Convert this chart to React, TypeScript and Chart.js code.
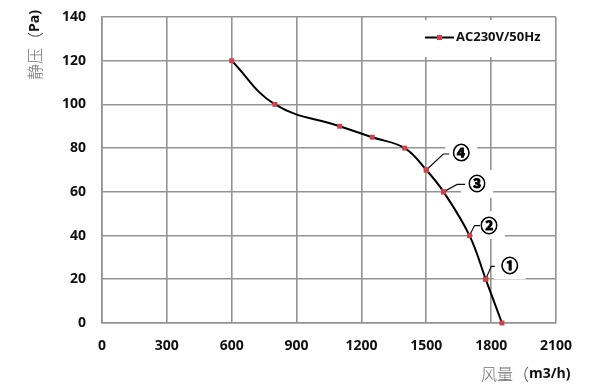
import React, { useEffect, useRef } from "react";
import { Chart, registerables } from "chart.js";

Chart.register(...registerables);

// ---- data ----
const airflow = [600, 800, 1100, 1250, 1400, 1500, 1580, 1700, 1775, 1850];
const pressure = [120, 100, 90, 85, 80, 70, 60, 40, 20, 0];
const seriesLabel = "AC230V/50Hz";
const calloutLabels = ["④", "③", "②", "①"];
const calloutIndices = [5, 6, 7, 8];
const xTitleCn = "风量";
const xTitleUnit = "m3/h)";
const yTitleCn = "静压";
const yTitleUnit = "Pa)";
const xMin = 0, xMax = 2100, xStep = 300;
const yMin = 0, yMax = 140, yStep = 20;

// ---- styles ----
const GRID = "#939393";
const RED = "#cf424c";
const TICK_FONT = "'Open Sans', 'Liberation Sans', sans-serif";
const CJK_FONT = "'Noto Sans CJK SC', sans-serif";
// leader offsets relative to the point: elbow, end of horizontal, label centre
const calloutGeom = [
  { ex: 17, ey: -16, hx: 23, lx: 35, ly: -17 },
  { ex: 13.5, ey: -7.5, hx: 21.5, lx: 33.5, ly: -8 },
  { ex: 5, ey: -10, hx: 10.5, lx: 19.5, ly: -10.5 },
  { ex: 5.5, ey: -13, hx: 9, lx: 24, ly: -14 },
];

const overlay = {
  id: "overlay",
  beforeDatasetsDraw(chart: any) {
    const { ctx, chartArea } = chart;
    const xs = chart.scales.x, ys = chart.scales.y;
    ctx.save();
    ctx.fillStyle = "#ffffff";
    // legend background
    ctx.fillRect(chartArea.right - 135, chartArea.top + 3, 132, 37);
    calloutIndices.forEach((idx, i) => {
      const px = xs.getPixelForValue(airflow[idx]);
      const py = ys.getPixelForValue(pressure[idx]);
      const g = calloutGeom[i];
      ctx.fillRect(px + g.lx - 16, py + g.ly - 14, 32, 28);
    });
    ctx.restore();
  },
  afterDatasetsDraw(chart: any) {
    const { ctx, chartArea } = chart;
    const xs = chart.scales.x, ys = chart.scales.y;
    ctx.save();
    // callouts
    calloutIndices.forEach((idx, i) => {
      const px = xs.getPixelForValue(airflow[idx]);
      const py = ys.getPixelForValue(pressure[idx]);
      const g = calloutGeom[i];
      ctx.strokeStyle = "#111";
      ctx.lineWidth = 1.2;
      ctx.beginPath();
      ctx.moveTo(px, py);
      ctx.lineTo(px + g.ex, py + g.ey);
      ctx.lineTo(px + g.hx, py + g.ey);
      ctx.stroke();
      ctx.fillStyle = "#000";
      ctx.strokeStyle = "#000";
      ctx.lineWidth = 0.9;
      ctx.font = `bold 17px ${CJK_FONT}`;
      ctx.textAlign = "center";
      ctx.textBaseline = "middle";
      ctx.fillText(calloutLabels[i], px + g.lx, py + g.ly);
      ctx.strokeText(calloutLabels[i], px + g.lx, py + g.ly);
      // redraw marker on top
      ctx.fillStyle = RED;
      ctx.fillRect(px - 2.5, py - 2.5, 5, 5);
    });
    // legend
    const ly = chartArea.top + 20.5;
    const lx0 = chartArea.right - 131;
    ctx.strokeStyle = "#000";
    ctx.lineWidth = 2;
    ctx.beginPath();
    ctx.moveTo(lx0, ly);
    ctx.lineTo(lx0 + 29, ly);
    ctx.stroke();
    ctx.fillStyle = RED;
    ctx.fillRect(lx0 + 14.5 - 2.5, ly - 2.5, 5, 5);
    ctx.fillStyle = "#111";
    ctx.font = `bold 13px ${TICK_FONT}`;
    ctx.textAlign = "left";
    ctx.textBaseline = "middle";
    ctx.fillText(seriesLabel, lx0 + 31, ly);
    ctx.restore();
  },
  afterDraw(chart: any) {
    const { ctx } = chart;
    ctx.save();
    ctx.textBaseline = "middle";
    ctx.textAlign = "left";
    // x title
    let x = 481;
    const xy = 374;
    ctx.font = `300 16px ${CJK_FONT}`;
    ctx.fillStyle = "#6f6f6f";
    ctx.fillText(xTitleCn, x, xy);
    x += ctx.measureText(xTitleCn).width;
    ctx.fillStyle = "#333";
    ctx.fillText("（", x, xy);
    x += ctx.measureText("（").width;
    ctx.font = `bold 14px ${TICK_FONT}`;
    ctx.fillStyle = "#111";
    ctx.fillText(xTitleUnit, x, xy);
    // y title
    ctx.translate(35, 80);
    ctx.rotate(-Math.PI / 2);
    let t = 0;
    ctx.font = `300 16px ${CJK_FONT}`;
    ctx.fillStyle = "#6f6f6f";
    ctx.fillText(yTitleCn, t, 0);
    t += ctx.measureText(yTitleCn).width;
    ctx.fillStyle = "#333";
    ctx.fillText("（", t, 0);
    t += ctx.measureText("（").width;
    ctx.font = `bold 14px ${TICK_FONT}`;
    ctx.fillStyle = "#111";
    ctx.fillText(yTitleUnit, t, 0);
    ctx.restore();
  },
};

export default function App() {
  const ref = useRef<HTMLCanvasElement>(null);
  useEffect(() => {
    if (!ref.current) return;
    const chart = new Chart(ref.current, {
      type: "line",
      data: {
        datasets: [
          {
            label: seriesLabel,
            data: airflow.map((v, i) => ({ x: v, y: pressure[i] })),
            borderColor: "#000",
            borderWidth: 2,
            tension: 0.4,
            pointStyle: "rect",
            pointRadius: 3.5,
            pointBackgroundColor: RED,
            pointBorderColor: RED,
            pointBorderWidth: 0,
            clip: false,
          } as any,
        ],
      },
      options: {
        animation: false,
        responsive: true,
        maintainAspectRatio: false,
        layout: { padding: { left: 0, top: 17, right: 44, bottom: 0 } },
        plugins: { legend: { display: false }, tooltip: { enabled: false } },
        scales: {
          x: {
            type: "linear",
            min: xMin,
            max: xMax,
            ticks: {
              stepSize: xStep,
              padding: 0,
              color: "#111",
              font: { family: TICK_FONT, size: 14, weight: "bold" },
              callback: (v: any) => String(v),
            },
            grid: { color: GRID, lineWidth: 1.6, drawTicks: true, tickLength: 15, tickColor: "rgba(0,0,0,0)" },
            border: { color: GRID, width: 1.6 },
            afterFit: (s: any) => { s.height = 69; },
          },
          y: {
            type: "linear",
            min: yMin,
            max: yMax,
            ticks: {
              stepSize: yStep,
              padding: 0,
              color: "#111",
              font: { family: TICK_FONT, size: 14, weight: "bold" },
              callback: (v: any) => String(v),
            },
            grid: { color: GRID, lineWidth: 1.6, drawTicks: true, tickLength: 16, tickColor: "rgba(0,0,0,0)" },
            border: { color: GRID, width: 1.6 },
            afterFit: (s: any) => { s.width = 102; },
          },
        },
      },
      plugins: [overlay],
    });
    return () => chart.destroy();
  }, []);
  return (
    <div style={{ position: "fixed", left: 0, top: 0, width: 600, height: 392, background: "#fff" }}>
      <canvas ref={ref} />
    </div>
  );
}
